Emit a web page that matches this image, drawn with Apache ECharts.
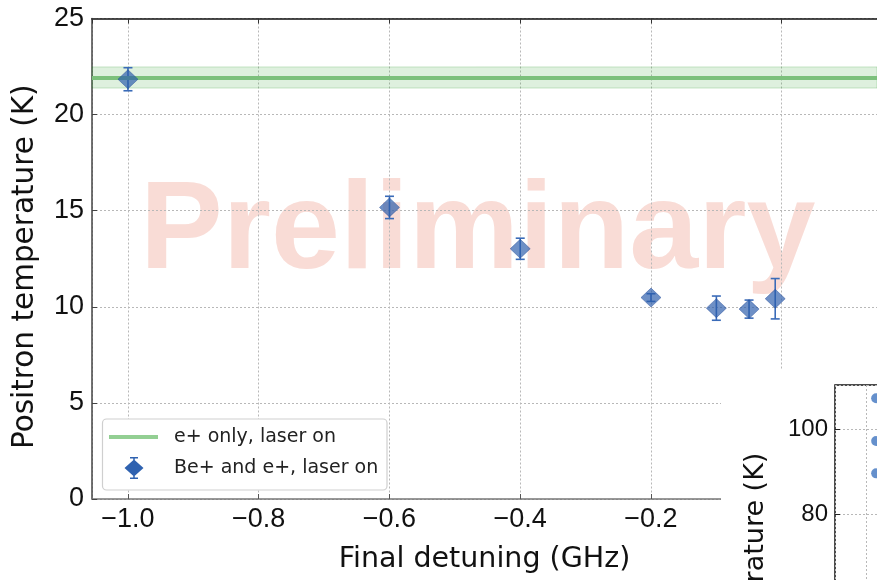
<!DOCTYPE html>
<html>
<head>
<meta charset="utf-8">
<script src="https://cdn.jsdelivr.net/npm/echarts@6/dist/echarts.min.js"></script>
<style>
  html, body { margin: 0; padding: 0; background: #fff; }
  #chart { width: 877px; height: 580px; }
</style>
</head>
<body>
<div id="chart"></div>
<script>
// Final laser detuning (GHz) of each Be+ / e+ run
const detuning = [-1.0, -0.6, -0.4, -0.2, -0.1, -0.05, -0.01];
// Positron temperature (K) and its uncertainty
const temperature = [21.84, 15.17, 13.02, 10.48, 9.93, 9.88, 10.42];
const tempError = [0.6, 0.58, 0.55, 0.2, 0.63, 0.47, 1.05];
// e+ only, laser on: mean temperature and uncertainty band
const refTemperature = 21.93;
const refError = 0.55;
// Inset panel: hotter runs
const insetX = [1.3, 1.3, 1.3];
const insetTemperature = [107.3, 97.2, 89.6];

const TICK_FONT = 'Liberation Sans';
const TEXT_FONT = 'DejaVu Sans';
const BLUE = '#2f62b0';
const GREEN = '#7cc07c';

const minus = v => String(v).replace('-', '\u2212');

const errorBarData = detuning.map((d, i) => [d, temperature[i] - tempError[i], temperature[i] + tempError[i]]);
const pointData = detuning.map((d, i) => [d, temperature[i]]);
const insetData = insetX.map((x, i) => [x, insetTemperature[i]]);

const chart = echarts.init(document.getElementById('chart'), null, { renderer: 'canvas' });

const gridDots = { show: true, lineStyle: { color: '#b8b8b8', width: 1, type: [2, 2] } };

const option = {
  animation: false,
  backgroundColor: '#fff',
  grid: [
    { left: 92, right: 0, top: 18.5, bottom: 81, containLabel: false, outerBoundsMode: 'none' },
    { left: 835, top: 385, width: 190, height: 469, show: true, z: 8, outerBoundsMode: 'none',
      backgroundColor: '#fff', borderColor: '#111', borderWidth: 1.5 }
  ],
  xAxis: [
    {
      gridIndex: 0, type: 'value', min: -1.055, max: 0.1457, splitNumber: 6,
      axisLine: { show: true, onZero: false, lineStyle: { color: '#777', width: 1.5 } },
      axisTick: { show: true, inside: true, length: 5, lineStyle: { color: '#555' } },
      axisLabel: {
        showMinLabel: false, showMaxLabel: false, margin: 7,
        fontFamily: TICK_FONT, fontSize: 27, color: '#111',
        formatter: v => minus(v.toFixed(1))
      },
      splitLine: gridDots,
      name: 'Final detuning (GHz)', nameLocation: 'middle', nameGap: 46,
      nameTextStyle: { fontFamily: TEXT_FONT, fontSize: 28.5, color: '#111' }
    },
    {
      gridIndex: 0, type: 'value', position: 'top', min: -1.055, max: 0.1457, splitNumber: 6,
      axisLine: { show: true, onZero: false, lineStyle: { color: '#111', width: 1.5 } },
      axisTick: { show: true, inside: true, length: 5, lineStyle: { color: '#333' } },
      axisLabel: { show: false },
      splitLine: { show: false }
    },
    {
      gridIndex: 1, type: 'value', min: 0, max: 6, interval: 1, z: 8,
      axisLine: { show: false, onZero: false },
      axisTick: { show: false },
      axisLabel: { show: false },
      splitLine: gridDots
    }
  ],
  yAxis: [
    {
      gridIndex: 0, type: 'value', min: 0, max: 25, interval: 5,
      axisLine: { show: true, onZero: false, lineStyle: { color: '#444', width: 1.5 } },
      axisTick: { show: true, inside: true, length: 5, lineStyle: { color: '#444' } },
      axisLabel: { margin: 8, fontFamily: TICK_FONT, fontSize: 27, color: '#111' },
      splitLine: gridDots,
      name: 'Positron temperature (K)', nameLocation: 'middle', nameGap: 52,
      nameTextStyle: { fontFamily: TEXT_FONT, fontSize: 29.5, color: '#111', padding: [0, 16, 0, 0] }
    },
    {
      gridIndex: 1, type: 'value', min: 0, max: 110.4, interval: 20, z: 8,
      axisLine: { show: false, onZero: false },
      axisTick: { show: true, inside: true, length: 5, lineStyle: { color: '#222' } },
      axisLabel: { showMinLabel: false, showMaxLabel: false, margin: 7,
        fontFamily: TICK_FONT, fontSize: 24, color: '#111' },
      splitLine: gridDots,
      name: 'Positron temperature (K)', nameLocation: 'middle', nameGap: 66,
      nameTextStyle: { fontFamily: TEXT_FONT, fontSize: 27, color: '#111' }
    }
  ],
  legend: [
    {
      left: 109, top: 425, z: 6, orient: 'vertical', padding: 0,
      itemWidth: 49, itemHeight: 4,
      textStyle: { fontFamily: TEXT_FONT, fontSize: 19, color: '#222', padding: [0, 0, 0, 11], lineHeight: 24 },
      data: [{ name: 'e+ only, laser on', icon: 'rect', itemStyle: { color: '#93cf93' } }]
    },
    {
      left: 109, top: 456, z: 6, orient: 'vertical', padding: 0,
      itemWidth: 49, itemHeight: 24,
      textStyle: { fontFamily: TEXT_FONT, fontSize: 19, color: '#222', padding: [0, 0, 0, 11], lineHeight: 24 },
      data: [{
        name: 'Be+ and e+, laser on',
        icon: 'path://M0,0h0.01v0.01h-0.01Z M48.99,0h0.01v0.01h-0.01Z M24.25,0h1.5v22h-1.5Z M21,0h8v1.5h-8Z M21,20.5h8v1.5h-8Z M25,2.5L34.5,11L25,19.5L15.5,11Z',
        itemStyle: { color: BLUE }
      }]
    }
  ],
  graphic: [
    {
      type: 'text', z: -10, left: 140, top: 172,
      style: {
        text: 'Preliminary', fill: '#f9dcd6',
        font: 'bold 124px "Liberation Sans", Arial, sans-serif'
      }
    },
    {
      type: 'rect', z: 5, shape: { x: 102.5, y: 419, width: 284.5, height: 71, r: 4 },
      style: { fill: '#fff', stroke: '#cfcfcf', lineWidth: 1.2 }
    },
    {
      type: 'rect', z: 7, shape: { x: 721, y: 370, width: 160, height: 215 },
      style: { fill: '#fff' }
    }
  ],
  series: [
    {
      name: 'e+ only, laser on', type: 'line', xAxisIndex: 0, yAxisIndex: 0,
      data: [], symbol: 'none', z: 3,
      lineStyle: { color: GREEN },
      itemStyle: { color: GREEN },
      markLine: {
        silent: true, symbol: 'none', label: { show: false },
        lineStyle: { color: GREEN, width: 4, type: 'solid' },
        data: [{ yAxis: refTemperature }]
      },
      markArea: {
        silent: true,
        itemStyle: { color: 'rgba(60,165,60,0.17)', borderColor: 'rgba(60,165,60,0.25)', borderWidth: 1 },
        data: [[{ yAxis: refTemperature - refError }, { yAxis: refTemperature + refError }]]
      }
    },
    {
      name: 'Be+ and e+, laser on', type: 'custom', xAxisIndex: 0, yAxisIndex: 0, z: 4,
      data: errorBarData,
      encode: { x: 0, y: [1, 2] },
      itemStyle: { color: BLUE },
      renderItem: function (params, api) {
        const x = api.value(0);
        const top = api.coord([x, api.value(2)]);
        const bot = api.coord([x, api.value(1)]);
        const cap = 4.5;
        const st = { stroke: '#3a6bb8', lineWidth: 1.6 };
        return {
          type: 'group',
          children: [
            { type: 'line', shape: { x1: top[0], y1: top[1], x2: bot[0], y2: bot[1] }, style: st },
            { type: 'line', shape: { x1: top[0] - cap, y1: top[1], x2: top[0] + cap, y2: top[1] }, style: st },
            { type: 'line', shape: { x1: bot[0] - cap, y1: bot[1], x2: bot[0] + cap, y2: bot[1] }, style: st }
          ]
        };
      }
    },
    {
      name: 'Be+ and e+, laser on', type: 'scatter', xAxisIndex: 0, yAxisIndex: 0, z: 5,
      data: pointData, symbol: 'diamond', symbolSize: [20, 19],
      itemStyle: { color: 'rgba(42,92,172,0.85)', borderColor: 'rgba(30,70,150,0.9)', borderWidth: 0.6 }
    },
    {
      name: 'inset', type: 'scatter', xAxisIndex: 2, yAxisIndex: 1, z: 9,
      data: insetData, symbol: 'circle', symbolSize: 10,
      itemStyle: { color: '#3f74bf' }
    }
  ]
};

chart.setOption(option);
</script>
</body>
</html>
